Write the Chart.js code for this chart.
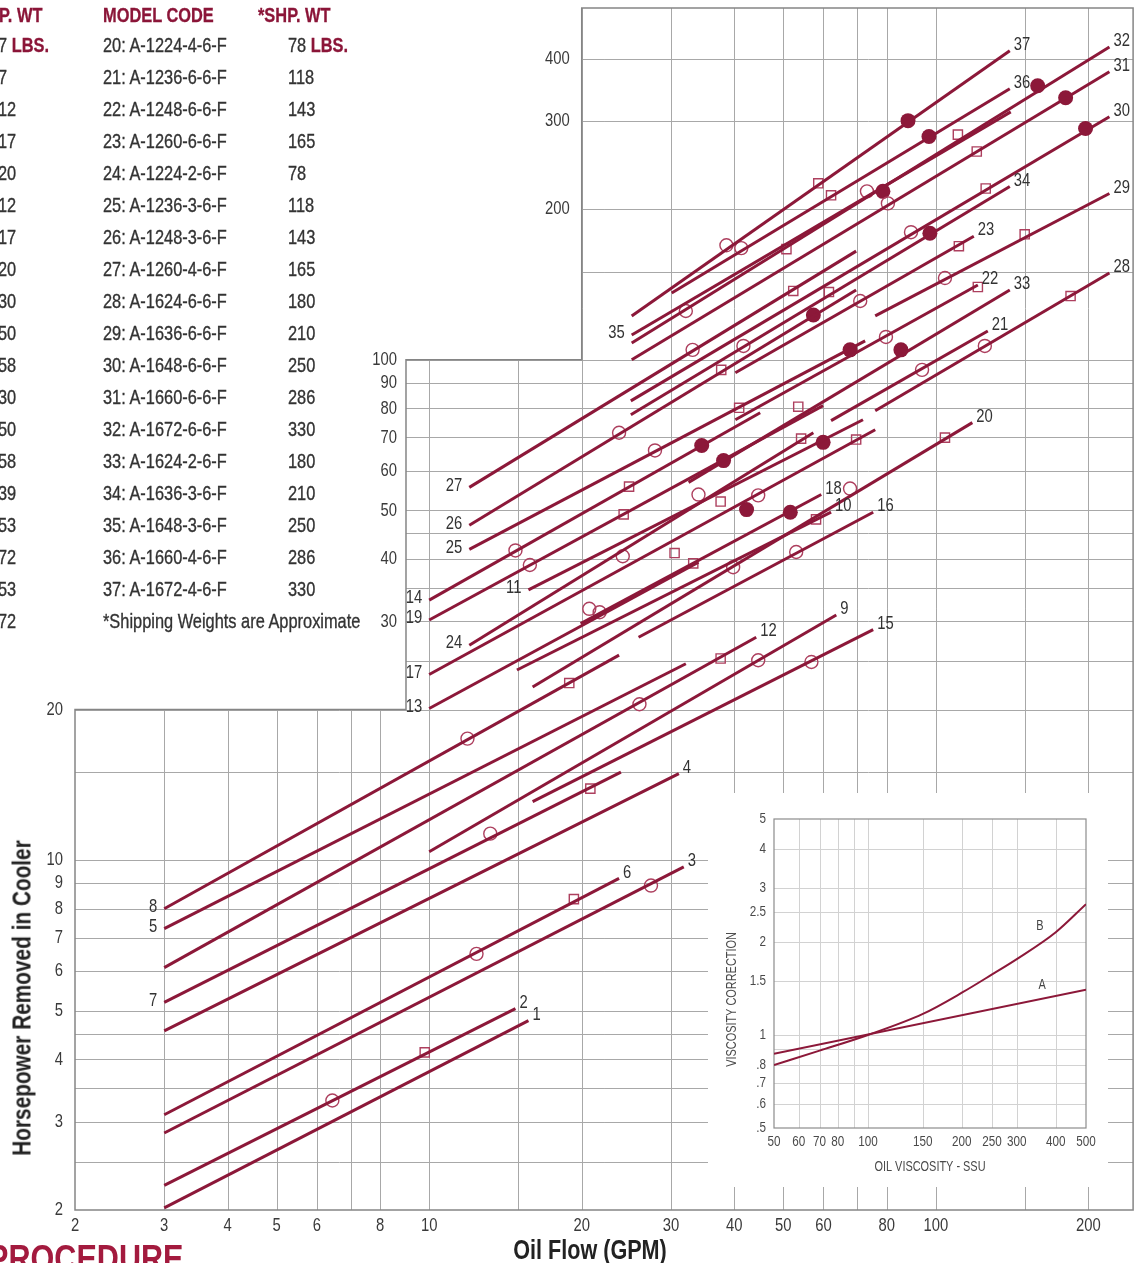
<!DOCTYPE html>
<html>
<head>
<meta charset="utf-8">
<script src="https://cdn.jsdelivr.net/npm/chart.js@4.4.0/dist/chart.umd.min.js"></script>
<style>
  body { margin: 0; width: 1141px; height: 1263px; overflow: hidden; background: #fff; position: relative;
         font-family: "Liberation Sans", Arial, sans-serif; }
  #main { position: absolute; left: 0; top: 0; }
  #insetBox { position: absolute; left: 708px; top: 793px; width: 400px; height: 394px; background: #fff; }
  .t { position: absolute; white-space: nowrap; font-size: 21px; line-height: 24px; color: #333;
       -webkit-text-stroke: 0.35px #333; transform: scaleX(0.78); transform-origin: 0 50%; }
  .h { font-weight: bold; color: #8b1538; -webkit-text-stroke: 0.3px #8b1538; }
  .ytitle { position: absolute; left: 22px; top: 998px; transform: translate(-50%, -50%) rotate(-90deg) scaleX(0.8);
            font-weight: bold; font-size: 26px; color: #222; white-space: nowrap; }
  .xtitle { position: absolute; left: 590px; top: 1250px; transform: translate(-50%, -50%) scaleX(0.8);
            font-weight: bold; font-size: 27px; color: #222; white-space: nowrap; }
  .proc { position: absolute; left: -12px; top: 1241px; font-weight: bold; font-size: 36px; line-height: 36px;
          color: #a31a3e; transform: scaleX(0.85); transform-origin: 0 50%; white-space: nowrap; }
</style>
</head>
<body>
<canvas id="main" width="1141" height="1263"></canvas>
<div id="table"></div>
<div class="ytitle">Horsepower Removed in Cooler</div>
<div class="xtitle">Oil Flow (GPM)</div>
<div class="proc">PROCEDURE</div>
<div id="insetBox"><canvas id="inset" width="400" height="394"></canvas></div>

<script>
// ---- table at top left ----
const leftWeights = ['7', '7', '12', '17', '20', '12', '17', '20', '30', '50', '58', '30', '50', '58', '39', '53', '72', '53', '72'];
const modelCodes = ['20: A-1224-4-6-F', '21: A-1236-6-6-F', '22: A-1248-6-6-F', '23: A-1260-6-6-F', '24: A-1224-2-6-F',
  '25: A-1236-3-6-F', '26: A-1248-3-6-F', '27: A-1260-4-6-F', '28: A-1624-6-6-F', '29: A-1636-6-6-F',
  '30: A-1648-6-6-F', '31: A-1660-6-6-F', '32: A-1672-6-6-F', '33: A-1624-2-6-F', '34: A-1636-3-6-F',
  '35: A-1648-3-6-F', '36: A-1660-4-6-F', '37: A-1672-4-6-F'];
const shipWeights = ['78', '118', '143', '165', '78', '118', '143', '165', '180', '210', '250', '286', '330',
  '180', '210', '250', '286', '330'];

// ---- main chart: cooler lines (GPM, HP) ----
const lineNumbers = [1, 2, 3, 4, 5, 6, 7, 8, 9, 10, 11, 12, 13, 14, 15, 16, 17, 18, 19, 20,
  21, 22, 23, 24, 25, 26, 27, 28, 29, 30, 31, 32, 33, 34, 35, 36, 37];
const lineStart = [
  [3, 2.02], [3, 2.24], [3, 2.85], [3, 4.56], [3, 7.3], [3, 3.1], [3, 5.2], [3, 8.0], [10, 10.4], [14.9, 24.0],
  [15.7, 34.7], [3, 6.1], [10, 20.1], [10, 33.1], [16, 13.1], [25.9, 27.9], [10, 23.5], [19.9, 29.7], [10, 30.2], [16, 22.2],
  [62.1, 75.6], [40.2, 75.9], [40.2, 94.2], [12, 26.9], [12, 41.8], [12, 46.7], [12, 55.6], [75.9, 79.1], [75.9, 122.4], [25, 82.8],
  [25.1, 100], [25.1, 108.1], [32.5, 56.9], [25, 77.7], [25.1, 112.1], [30.1, 136], [25.1, 122.4]
];
const lineEnd = [
  [15.7, 4.78], [14.8, 5.05], [31.8, 9.7], [31.1, 14.9], [32.1, 24.7], [23.7, 9.2], [23.9, 15.0], [23.7, 25.7], [63.6, 30.9], [62.1, 49.6],
  [71.8, 75.9], [44.2, 27.9], [34.0, 39.4], [45.0, 78.4], [75.2, 28.9], [75.2, 49.6], [75.9, 72.5], [59.4, 53.8], [59.9, 81.0], [118, 74.9],
  [126.6, 114.2], [121, 141.1], [118.8, 176.6], [57.3, 71.5], [72.5, 109.1], [69.6, 137.9], [69.6, 164.9], [220, 149.1], [220, 215], [220, 306],
  [220, 376.5], [220, 422], [139.9, 137.9], [139.9, 222], [140.5, 313], [139.9, 348], [139.9, 414.6]
];
// which end carries the number
const labelSide = ['R', 'R', 'R', 'R', 'L', 'R', 'L', 'L', 'R', 'R', 'L', 'R', 'L', 'L', 'R', 'R', 'L', 'R', 'L', 'R',
  'R', 'R', 'R', 'L', 'L', 'L', 'L', 'R', 'R', 'R', 'R', 'R', 'R', 'R', 'L', 'R', 'R'];

// markers on the lines
const filledDots = [[88.1, 300.6], [158.8, 353], [96.9, 279.4], [180.3, 334], [197.4, 289.9], [78.6, 217.1], [97.3, 179.1],
  [57.3, 122.9], [67.7, 104.7], [85.3, 104.7], [34.5, 67.4], [38.1, 62.9], [59.9, 68.4], [42.3, 50.2], [51.6, 49.6]];
const openCircles = [[38.6, 169.4], [41.3, 167.2], [32.1, 125.2], [33.1, 104.7], [41.7, 106.6], [73.1, 217.1], [80.4, 205.4],
  [89.3, 179.9], [104.2, 145.7], [79.7, 111.1], [93.9, 95.5], [124.9, 106.6], [70.9, 131.1], [23.7, 71.5], [27.9, 65.9],
  [34.0, 53.8], [44.6, 53.6], [14.8, 41.6], [15.8, 38.9], [24.1, 40.5], [39.8, 38.5], [53.0, 41.3], [67.7, 55.3], [20.7, 31.8],
  [21.7, 31.3], [11.9, 17.5], [26.0, 20.5], [44.6, 25.1], [56.8, 24.9], [13.2, 11.3], [12.4, 6.5], [27.4, 8.9], [6.44, 3.31]];
const openSquares = [[58.6, 225.3], [62.1, 213.2], [110.5, 281.9], [120.4, 260.8], [125.4, 220], [149.7, 178.2], [111, 168.7],
  [121, 139.8], [184.4, 134.1], [50.7, 166.4], [52.3, 137.3], [61.5, 136.6], [37.7, 95.5], [40.9, 80.2], [53.5, 80.6],
  [54.2, 69.6], [69.6, 69.3], [104.2, 69.9], [24.8, 55.8], [24.2, 49.1], [37.6, 52.1], [30.5, 41.1], [33.2, 39.2], [58.0, 48.0],
  [18.9, 22.6], [37.6, 25.3], [20.8, 13.9], [19.3, 8.36], [9.8, 4.13]];

// stepped grid outline (GPM, HP) and its ticks
const gridOutline = [[2, 2], [2, 20], [9, 20], [9, 100], [20, 100], [20, 505], [245, 505], [245, 2]];
const gridFlow = [3, 4, 5, 6, 7, 8, 10, 15, 20, 30, 40, 50, 60, 70, 80, 100, 150, 200];
const gridHp = [2.5, 3, 3.5, 4, 4.5, 5, 6, 7, 8, 9, 10, 15, 20, 25, 30, 35, 40, 45, 50, 60, 70, 80, 90, 100, 150, 200, 300, 400];
const flowTicks = [2, 3, 4, 5, 6, 8, 10, 20, 30, 40, 50, 60, 80, 100, 200];
const hpTicksLow = [2, 3, 4, 5, 6, 7, 8, 9, 10, 20];
const hpTicksMid = [30, 40, 50, 60, 70, 80, 90, 100];
const hpTicksTop = [200, 300, 400];

// ---- inset: viscosity correction ----
const ssuA = [50, 500];
const corrA = [0.87, 1.40];
const ssuB = [50, 70, 100, 150, 200, 250, 300, 400, 500];
const corrB = [0.80, 0.89, 1.0, 1.17, 1.37, 1.57, 1.76, 2.15, 2.65];
const ssuTicks = [50, 60, 70, 80, 100, 150, 200, 250, 300, 400, 500];
const corrTicks = [5, 4, 3, 2.5, 2, 1.5, 1, 0.8, 0.7, 0.6, 0.5];
const corrTickText = ['5', '4', '3', '2.5', '2', '1.5', '1', '.8', '.7', '.6', '.5'];
const ssuGrid = [60, 70, 80, 90, 100, 150, 200, 250, 300, 400];
const corrGrid = [0.6, 0.7, 0.8, 0.9, 1, 1.5, 2, 2.5, 3, 4];
const curveNames = ['B', 'A'];
const curveNamePos = [[356, 2.25], [362, 1.45]];

const FONT = '"Liberation Sans", Arial, sans-serif';
const RED = '#8c1839';
const MARK = '#ad3f5e';
const NARROW = 0.78;

// text squeezed sideways, the reference uses a condensed face
function narrowText(ctx, txt, x, y, k) {
  ctx.save();
  ctx.translate(x, y);
  ctx.scale(k || NARROW, 1);
  ctx.fillText(txt, 0, 0);
  ctx.restore();
}

// build the table
const table = document.getElementById('table');
function addText(txt, left, cy, cls, extra) {
  const d = document.createElement('div');
  d.className = 't' + (cls ? ' ' + cls : '');
  d.style.left = left + 'px';
  d.style.top = (cy - 12) + 'px';
  d.innerHTML = txt + (extra || '');
  table.appendChild(d);
}
addText('P. WT', -1, 15, 'h');
addText('MODEL CODE', 103, 15, 'h');
addText('*SHP. WT', 258, 15, 'h');
leftWeights.forEach((w, i) => addText(w, -2, 45 + 32 * i, '', i === 0 ? ' <span class="h">LBS.</span>' : ''));
modelCodes.forEach((m, i) => addText(m, 103, 45 + 32 * i));
shipWeights.forEach((w, i) => addText(w, 288, 45 + 32 * i, '', i === 0 ? ' <span class="h">LBS.</span>' : ''));
addText('*Shipping Weights are Approximate', 103, 621);

// draw stepped grid, tick labels and line numbers
const stairGrid = {
  id: 'stairGrid',
  beforeDatasetsDraw(chart) {
    const { ctx } = chart;
    const sx = chart.scales.x, sy = chart.scales.y;
    const pts = gridOutline.map(([a, b]) => [sx.getPixelForValue(a), sy.getPixelForValue(b)]);
    const outline = () => {
      ctx.beginPath();
      pts.forEach(([a, b], i) => i ? ctx.lineTo(a, b) : ctx.moveTo(a, b));
      ctx.closePath();
    };
    ctx.save();
    outline();
    ctx.clip();
    ctx.strokeStyle = '#a8a8a8';
    ctx.lineWidth = 1;
    gridFlow.forEach(v => {
      const X = Math.round(sx.getPixelForValue(v)) + 0.5;
      ctx.beginPath(); ctx.moveTo(X, sy.top); ctx.lineTo(X, sy.bottom); ctx.stroke();
    });
    gridHp.forEach(v => {
      const Y = Math.round(sy.getPixelForValue(v)) + 0.5;
      ctx.beginPath(); ctx.moveTo(sx.left, Y); ctx.lineTo(sx.right, Y); ctx.stroke();
    });
    ctx.restore();

    ctx.save();
    ctx.strokeStyle = '#858585';
    ctx.lineWidth = 1.5;
    outline();
    ctx.stroke();

    ctx.fillStyle = '#3a3a3a';
    ctx.font = '19px ' + FONT;
    ctx.textAlign = 'right';
    ctx.textBaseline = 'middle';
    const yGroups = [[hpTicksLow, 2, 12], [hpTicksMid, 9, 9], [hpTicksTop, 20, 12]];
    yGroups.forEach(([ticks, edge, gap]) => {
      const X = sx.getPixelForValue(edge) - gap;
      ticks.forEach(v => narrowText(ctx, String(v), X, sy.getPixelForValue(v)));
    });
    ctx.textAlign = 'center';
    flowTicks.forEach(v => narrowText(ctx, String(v), sx.getPixelForValue(v), sy.bottom + 16));
    ctx.restore();
  },
  afterDatasetsDraw(chart) {
    const { ctx } = chart;
    const sx = chart.scales.x, sy = chart.scales.y;
    ctx.save();
    ctx.fillStyle = '#333';
    ctx.font = '19px ' + FONT;
    ctx.textBaseline = 'middle';
    lineNumbers.forEach((n, i) => {
      if (labelSide[i] === 'R') {
        ctx.textAlign = 'left';
        narrowText(ctx, String(n), sx.getPixelForValue(lineEnd[i][0]) + 4, sy.getPixelForValue(lineEnd[i][1]) - 6);
      } else {
        ctx.textAlign = 'right';
        narrowText(ctx, String(n), sx.getPixelForValue(lineStart[i][0]) - 7, sy.getPixelForValue(lineStart[i][1]) - 2);
      }
    });
    ctx.restore();
  }
};

const datasets = lineNumbers.map((n, i) => ({
  label: 'Line ' + n,
  data: [{ x: lineStart[i][0], y: lineStart[i][1] }, { x: lineEnd[i][0], y: lineEnd[i][1] }],
  showLine: true,
  borderColor: RED,
  borderWidth: 3,
  pointRadius: 0
}));
datasets.push({
  label: 'open circles',
  data: openCircles.map(([x, y]) => ({ x, y })),
  pointStyle: 'circle', pointRadius: 6.5, pointBorderWidth: 1.4,
  pointBorderColor: MARK, pointBackgroundColor: 'rgba(255,255,255,0)'
});
datasets.push({
  label: 'open squares',
  data: openSquares.map(([x, y]) => ({ x, y })),
  pointStyle: 'rect', pointRadius: 6.5, pointBorderWidth: 1.4,
  pointBorderColor: MARK, pointBackgroundColor: 'rgba(255,255,255,0)'
});
datasets.push({
  label: 'filled dots',
  data: filledDots.map(([x, y]) => ({ x, y })),
  pointStyle: 'circle', pointRadius: 7.5, pointBorderWidth: 0,
  pointBackgroundColor: RED
});

new Chart(document.getElementById('main'), {
  type: 'scatter',
  data: { datasets },
  options: {
    responsive: false,
    devicePixelRatio: 1,
    animation: false,
    events: [],
    layout: { padding: { left: 75, right: 5, top: 4, bottom: 53 } },
    plugins: { legend: { display: false }, tooltip: { enabled: false } },
    scales: {
      x: { type: 'logarithmic', min: 2, max: 245, display: false },
      y: { type: 'logarithmic', min: 2, max: 505, display: false }
    }
  },
  plugins: [stairGrid]
});

// inset frame, grid and labels
const insetFrame = {
  id: 'insetFrame',
  beforeDatasetsDraw(chart) {
    const { ctx, chartArea: a } = chart;
    const sx = chart.scales.x, sy = chart.scales.y;
    ctx.save();
    ctx.strokeStyle = '#d2d2d2';
    ctx.lineWidth = 1;
    ssuGrid.forEach(v => {
      const X = Math.round(sx.getPixelForValue(v)) + 0.5;
      ctx.beginPath(); ctx.moveTo(X, a.top); ctx.lineTo(X, a.bottom); ctx.stroke();
    });
    corrGrid.forEach(v => {
      const Y = Math.round(sy.getPixelForValue(v)) + 0.5;
      ctx.beginPath(); ctx.moveTo(a.left, Y); ctx.lineTo(a.right, Y); ctx.stroke();
    });
    ctx.strokeStyle = '#8c8c8c';
    ctx.lineWidth = 1.2;
    ctx.strokeRect(a.left, a.top, a.right - a.left, a.bottom - a.top);

    ctx.fillStyle = '#4a4a4a';
    ctx.font = '15px ' + FONT;
    ctx.textBaseline = 'middle';
    ctx.textAlign = 'right';
    corrTicks.forEach((v, i) => narrowText(ctx, corrTickText[i], a.left - 8, sy.getPixelForValue(v)));
    ctx.textAlign = 'center';
    ssuTicks.forEach(v => narrowText(ctx, String(v), sx.getPixelForValue(v), a.bottom + 14));
    ctx.font = '14px ' + FONT;
    narrowText(ctx, 'OIL VISCOSITY - SSU', (a.left + a.right) / 2, a.bottom + 39);
    ctx.save();
    ctx.translate(24, (a.top + a.bottom) / 2 + 26);
    ctx.rotate(-Math.PI / 2);
    narrowText(ctx, 'VISCOSITY CORRECTION', 0, 0);
    ctx.restore();
    ctx.restore();
  },
  afterDatasetsDraw(chart) {
    const { ctx } = chart;
    const sx = chart.scales.x, sy = chart.scales.y;
    ctx.save();
    ctx.fillStyle = '#444';
    ctx.font = '14px ' + FONT;
    ctx.textAlign = 'center';
    ctx.textBaseline = 'middle';
    curveNames.forEach((n, i) => narrowText(ctx, n, sx.getPixelForValue(curveNamePos[i][0]), sy.getPixelForValue(curveNamePos[i][1])));
    ctx.restore();
  }
};

new Chart(document.getElementById('inset'), {
  type: 'scatter',
  data: {
    datasets: [
      { label: 'A', data: ssuA.map((s, i) => ({ x: s, y: corrA[i] })), showLine: true,
        borderColor: RED, borderWidth: 2, pointRadius: 0 },
      { label: 'B', data: ssuB.map((s, i) => ({ x: s, y: corrB[i] })), showLine: true,
        borderColor: RED, borderWidth: 2, pointRadius: 0, cubicInterpolationMode: 'monotone' }
    ]
  },
  options: {
    responsive: false,
    devicePixelRatio: 1,
    animation: false,
    events: [],
    layout: { padding: { left: 66, right: 22, top: 26, bottom: 59 } },
    plugins: { legend: { display: false }, tooltip: { enabled: false } },
    scales: {
      x: { type: 'logarithmic', min: 50, max: 500, display: false },
      y: { type: 'logarithmic', min: 0.5, max: 5, display: false }
    }
  },
  plugins: [insetFrame]
});
</script>
</body>
</html>
